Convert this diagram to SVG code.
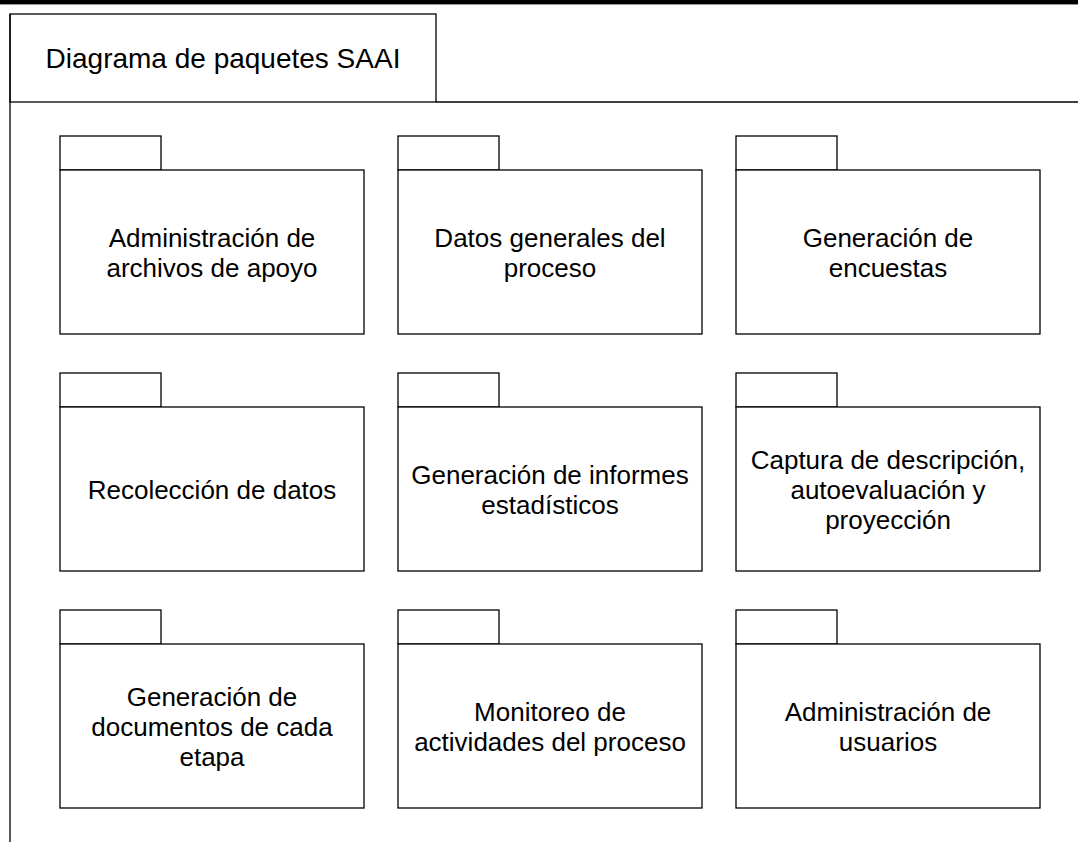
<svg xmlns="http://www.w3.org/2000/svg" width="1078" height="842" viewBox="0 0 1078 842">
<style>
.ln{fill:none;stroke:#000;stroke-width:1.3}
.bx{fill:#fff;stroke:#000;stroke-width:1.3}
.t{font-family:"Liberation Sans",Arial,sans-serif;font-size:26px;fill:#000;text-anchor:middle}
.ttl{font-family:"Liberation Sans",Arial,sans-serif;font-size:28px;fill:#000;text-anchor:middle}
</style>
<defs>
<g id="pkg">
<rect class="bx" x="0" y="0" width="101" height="34"/>
<rect class="bx" x="0" y="34" width="304" height="164"/>
</g>
</defs>
<rect x="0" y="0" width="1078" height="842" fill="#fff"/>
<rect x="0" y="0" width="1078" height="4" fill="#000"/>
<line x1="0" y1="4.5" x2="1078" y2="4.5" stroke="#999" stroke-width="1"/>
<g id="frame">
<line class="ln" x1="10" y1="14" x2="10" y2="842"/>
<rect class="ln" x="10" y="14" width="426" height="88"/>
<line class="ln" x1="436" y1="102" x2="1078" y2="102"/>
<text class="ttl" x="223" y="68">Diagrama de paquetes SAAI</text>
</g>
<g id="p1"><use href="#pkg" x="60" y="136"/><text class="t" x="212"><tspan x="212" y="247">Administración de</tspan><tspan x="212" y="277">archivos de apoyo</tspan></text></g>
<g id="p2"><use href="#pkg" x="398" y="136"/><text class="t" x="550"><tspan x="550" y="247">Datos generales del</tspan><tspan x="550" y="277">proceso</tspan></text></g>
<g id="p3"><use href="#pkg" x="736" y="136"/><text class="t" x="888"><tspan x="888" y="247">Generación de</tspan><tspan x="888" y="277">encuestas</tspan></text></g>
<g id="p4"><use href="#pkg" x="60" y="373"/><text class="t" x="212" y="499">Recolección de datos</text></g>
<g id="p5"><use href="#pkg" x="398" y="373"/><text class="t" x="550"><tspan x="550" y="484">Generación de informes</tspan><tspan x="550" y="514">estadísticos</tspan></text></g>
<g id="p6"><use href="#pkg" x="736" y="373"/><text class="t" x="888"><tspan x="888" y="469">Captura de descripción,</tspan><tspan x="888" y="499">autoevaluación y</tspan><tspan x="888" y="529">proyección</tspan></text></g>
<g id="p7"><use href="#pkg" x="60" y="610"/><text class="t" x="212"><tspan x="212" y="706">Generación de</tspan><tspan x="212" y="736">documentos de cada</tspan><tspan x="212" y="766">etapa</tspan></text></g>
<g id="p8"><use href="#pkg" x="398" y="610"/><text class="t" x="550"><tspan x="550" y="721">Monitoreo de</tspan><tspan x="550" y="751">actividades del proceso</tspan></text></g>
<g id="p9"><use href="#pkg" x="736" y="610"/><text class="t" x="888"><tspan x="888" y="721">Administración de</tspan><tspan x="888" y="751">usuarios</tspan></text></g>
<g id="connectors"/>
</svg>
